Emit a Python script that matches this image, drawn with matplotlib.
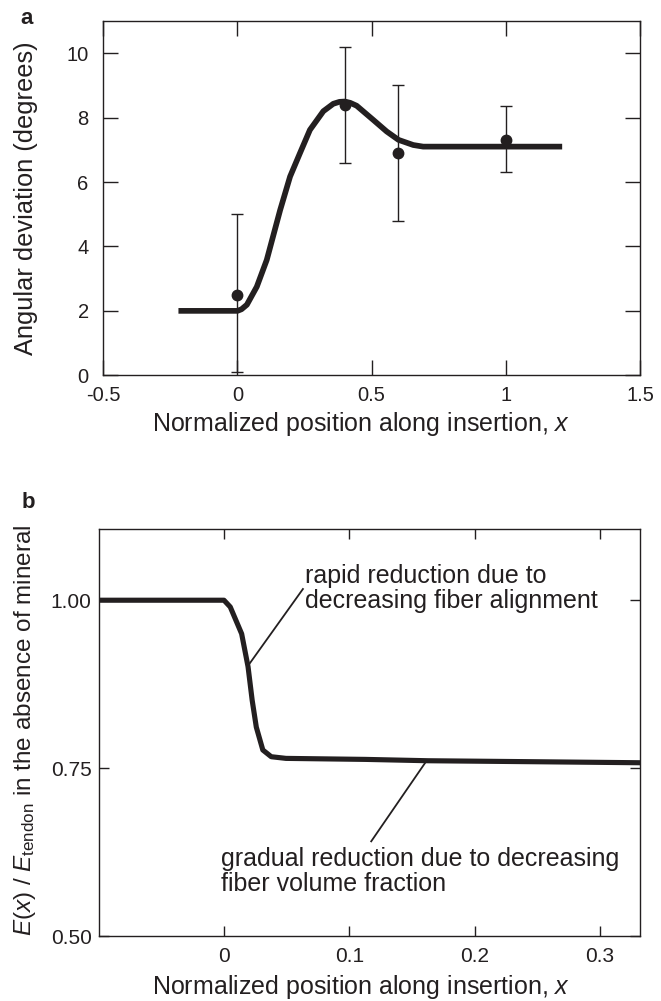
import numpy as np
import matplotlib
matplotlib.use("Agg")
import matplotlib.pyplot as plt

plt.rcParams['font.family'] = ['Liberation Sans', 'DejaVu Sans']
plt.rcParams['mathtext.fontset'] = 'custom'
plt.rcParams['mathtext.rm'] = 'Liberation Sans'
plt.rcParams['mathtext.it'] = 'Liberation Sans:italic'

ink = '#231f20'

# panel a: model curve
curve_a_x = [-0.22, 0.0, 0.015, 0.035, 0.072, 0.109, 0.159, 0.196, 0.233, 0.27, 0.32,
             0.357, 0.38, 0.40, 0.42, 0.444, 0.506, 0.556, 0.60, 0.655, 0.692, 1.21]
curve_a_y = [2.0, 2.0, 2.05, 2.19, 2.75, 3.58, 5.13, 6.17, 6.9, 7.62, 8.2,
             8.43, 8.49, 8.5, 8.46, 8.37, 7.93, 7.57, 7.31, 7.15, 7.1, 7.1]

# panel a: measurements
pts_x = [0.0, 0.4, 0.6, 1.0]
pts_y = [2.5, 8.4, 6.9, 7.3]
err_lo = [0.1, 6.6, 4.8, 6.3]
err_hi = [5.0, 10.2, 9.0, 8.35]

# panel b: modulus curve
curve_b_x = [-0.1, 0.0, 0.005, 0.0141, 0.0192, 0.0225, 0.0258, 0.031, 0.0377,
             0.0495, 0.113, 0.163, 0.25, 0.333]
curve_b_y = [1.0, 1.0, 0.990, 0.950, 0.901, 0.851, 0.811, 0.777, 0.767,
             0.7645, 0.763, 0.761, 0.7595, 0.758]

fig = plt.figure(figsize=(6.61, 10.01), dpi=100)

# ---- panel a
ax1 = fig.add_axes([0.1563, 0.6251, 0.8119, 0.3539])
ax1.errorbar(pts_x, pts_y,
             yerr=[np.array(pts_y) - np.array(err_lo), np.array(err_hi) - np.array(pts_y)],
             fmt='o', color=ink, ms=7.5, elinewidth=1, capsize=4, capthick=1, zorder=2)
ax1.plot(curve_a_x, curve_a_y, color=ink, lw=4.1, solid_capstyle='butt',
         solid_joinstyle='round', zorder=3)
ax1.set_xlim(-0.5, 1.5)
ax1.set_ylim(0, 11)
ax1.set_xticks([-0.5, 0, 0.5, 1, 1.5])
ax1.set_xticklabels(['-0.5', '0', '0.5', '1', '1.5'])
ax1.set_yticks([0, 2, 4, 6, 8, 10])
ax1.tick_params(direction='in', top=True, right=True, length=10.8, width=1,
                labelsize=14.5, colors=ink)
ax1.tick_params(axis='y', pad=10.5)
ax1.tick_params(axis='x', pad=8)
ax1.set_xlabel('Normalized position along insertion, $x$', fontsize=18, color=ink)
ax1.xaxis.set_label_coords(0.481, -0.097)
ax1.set_ylabel('Angular deviation (degrees)', fontsize=18.3, color=ink)
ax1.yaxis.set_label_coords(-0.122, 0.5)
for s in ax1.spines.values():
    s.set_linewidth(1)
    s.set_color(ink)
fig.text(27 / 661, 1 - 18 / 1001, 'a', fontsize=16, fontweight='bold', color=ink,
         va='center', ha='center')

# ---- panel b
ax2 = fig.add_axes([0.1493, 0.0649, 0.8189, 0.4066])
ax2.plot(curve_b_x, curve_b_y, color=ink, lw=3.7, solid_capstyle='butt',
         solid_joinstyle='round', zorder=3)
ax2.plot([0.063, 0.0185], [1.0167, 0.9006], color=ink, lw=1.3)
ax2.plot([0.1606, 0.1175], [0.758, 0.641], color=ink, lw=1.3)
ax2.text(0.0646, 1.054, 'rapid reduction due to\ndecreasing fiber alignment',
         fontsize=18, color=ink, va='top', ha='left', linespacing=1.05)
ax2.text(-0.0027, 0.633, 'gradual reduction due to decreasing\nfiber volume fraction',
         fontsize=18, color=ink, va='top', ha='left', linespacing=1.05)
ax2.set_xlim(-0.1, 0.332)
ax2.set_ylim(0.5, 1.106)
ax2.set_xticks([0, 0.1, 0.2, 0.3])
ax2.set_xticklabels(['0', '0.1', '0.2', '0.3'])
ax2.set_yticks([0.5, 0.75, 1.0])
ax2.set_yticklabels(['0.50', '0.75', '1.00'])
ax2.tick_params(direction='in', top=True, right=True, length=7.2, width=1,
                labelsize=15, colors=ink)
ax2.tick_params(axis='y', pad=5)
ax2.tick_params(axis='x', pad=8)
ax2.set_xlabel('Normalized position along insertion, $x$', fontsize=18, color=ink)
ax2.xaxis.set_label_coords(0.4855, -0.091)
ax2.set_ylabel('$E$($x$) / $E_{\\mathrm{tendon}}$ in the absence of mineral', fontsize=17.5,
               color=ink)
ax2.yaxis.set_label_coords(-0.112, 0.505)
for s in ax2.spines.values():
    s.set_linewidth(1)
    s.set_color(ink)
fig.text(28 / 661, 1 - 503 / 1001, 'b', fontsize=16, fontweight='bold', color=ink,
         va='center', ha='center')

fig.savefig('out.png', dpi=100)
